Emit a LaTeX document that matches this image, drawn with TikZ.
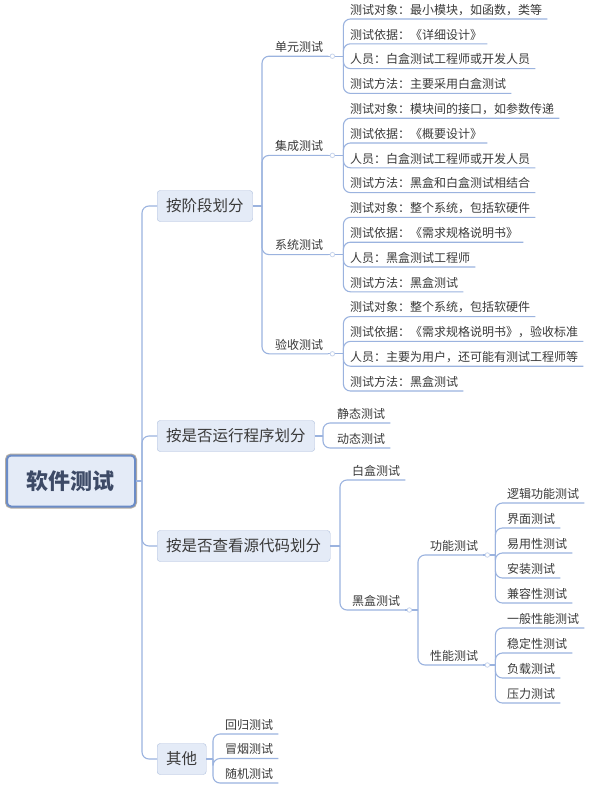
\documentclass[tikz,border=0pt]{standalone}
\usepackage{fontspec}
\setmainfont{Noto Sans CJK SC}
\usepackage{tikz}
\usetikzlibrary{positioning,calc}
\definecolor{mapline}{HTML}{9BB3DF}
\definecolor{mapfill}{HTML}{E4EBF7}
\definecolor{mapedge}{HTML}{AFC0DE}
\definecolor{maproot}{HTML}{6B8CC7}
\definecolor{mapgray}{HTML}{B4ADA3}
\definecolor{maptext}{HTML}{3A3A3A}
\definecolor{mapdeep}{HTML}{3D4A66}

\begin{document}
\begin{tikzpicture}[x=1pt,y=-1pt,
	link/.style={draw=mapline,line width=1.1pt,rounded corners=7pt},
	topic/.style={anchor=west,draw=mapedge,fill=mapfill,rounded corners=3pt,text=maptext,font=\fontsize{15.5}{16}\selectfont,inner xsep=9pt,minimum height=31pt},
	sub/.style={anchor=south west,text=maptext,font=\fontsize{12}{13}\selectfont,inner xsep=5pt,inner ysep=2pt,text depth=2.5pt},
	knob/.style={circle,draw=mapline!55,fill=white,line width=0.8pt,inner sep=0pt,minimum size=4.5pt}]
	\path[use as bounding box,fill=white] (0,0) rectangle (600,798);
	\node[draw=maproot,line width=2pt,preaction={draw=mapgray,line width=4pt},fill=mapfill,rounded corners=4pt,minimum width=128pt,minimum height=51pt,font=\fontsize{22}{24}\selectfont\bfseries,text=mapdeep] (root) at (71,481) {软件测试};
	\node[topic] (stage) at (157,206) {按阶段划分};
	\node[topic] (run) at (157,436) {按是否运行程序划分};
	\node[topic] (src) at (157,546) {按是否查看源代码划分};
	\node[topic] (misc) at (157,759) {其他};
	\coordinate (m0) at (142,481);
	\draw[link] (root.east) -- (m0);
	\foreach \n in {stage,run,src,misc}
		\draw[link] (m0) |- (\n.west);

	\coordinate (m1) at (262,206);
	\draw[link] (stage.east) -- (m1);
	\foreach \u/\t [count=\g] in {unit/单元测试,integ/集成测试,system/系统测试,accept/验收测试}{
		\node[sub] (\u) at (270,{56.2+99.2*(\g-1)}) {\t};
		\draw[link] (m1) |- (\u.south east);
		\coordinate (s\u) at ($(\u.south east)+(15,0)$);
		\draw[link] (\u.south east) -- (s\u);
		\node[knob] (k\u) at ($(\u.south east)+(4,0)$) {};
	}
	\foreach \t [count=\i] in {测试对象：最小模块，如函数，类等,测试依据：《详细设计》,人员：白盒测试工程师或开发人员,测试方法：主要采用白盒测试}{
		\node[sub] (unit\i) at (345,{19+24.8*(\i-1)}) {\t};
		\draw[link] (sunit) |- (unit\i.south east);
	}
	\foreach \t [count=\i] in {测试对象：模块间的接口，如参数传递,测试依据：《概要设计》,人员：白盒测试工程师或开发人员,测试方法：黑盒和白盒测试相结合}{
		\node[sub] (integ\i) at (345,{118.2+24.8*(\i-1)}) {\t};
		\draw[link] (sinteg) |- (integ\i.south east);
	}
	\foreach \t [count=\i] in {测试对象：整个系统，包括软硬件,测试依据：《需求规格说明书》,人员：黑盒测试工程师,测试方法：黑盒测试}{
		\node[sub] (system\i) at (345,{217.4+24.8*(\i-1)}) {\t};
		\draw[link] (ssystem) |- (system\i.south east);
	}
	\foreach \t [count=\i] in {测试对象：整个系统，包括软硬件,测试依据：《需求规格说明书》，验收标准,人员：主要为用户，还可能有测试工程师等,测试方法：黑盒测试}{
		\node[sub] (accept\i) at (345,{316.6+24.8*(\i-1)}) {\t};
		\draw[link] (saccept) |- (accept\i.south east);
	}

	\coordinate (m3) at (323,436);
	\draw[link] (run.east) -- (m3);
	\foreach \t [count=\i] in {静态测试,动态测试}{
		\node[sub] (run\i) at (332,{423+25*(\i-1)}) {\t};
		\draw[link] (m3) |- (run\i.south east);
	}

	\coordinate (m4) at (340,546);
	\draw[link] (src.east) -- (m4);
	\node[sub] (white) at (347,480) {白盒测试};
	\node[sub] (black) at (347,610) {黑盒测试};
	\foreach \n in {white,black}
		\draw[link] (m4) |- (\n.south east);
	\coordinate (m5) at (418,610);
	\draw[link] (black.south east) -- (m5);
	\node[knob] (kblack) at ($(black.south east)+(4,0)$) {};
	\node[sub] (func) at (425,555) {功能测试};
	\node[sub] (perf) at (425,665) {性能测试};
	\foreach \n in {func,perf}{
		\draw[link] (m5) |- (\n.south east);
		\coordinate (s\n) at ($(\n.south east)+(12,0)$);
		\draw[link] (\n.south east) -- (s\n);
		\node[knob] (k\n) at ($(\n.south east)+(4,0)$) {};
	}
	\foreach \t [count=\i] in {逻辑功能测试,界面测试,易用性测试,安装测试,兼容性测试}{
		\node[sub] (func\i) at (502,{503+25*(\i-1)}) {\t};
		\draw[link] (sfunc) |- (func\i.south east);
	}
	\foreach \t [count=\i] in {一般性能测试,稳定性测试,负载测试,压力测试}{
		\node[sub] (perf\i) at (502,{628+25*(\i-1)}) {\t};
		\draw[link] (sperf) |- (perf\i.south east);
	}

	\coordinate (m8) at (213,759);
	\draw[link] (misc.east) -- (m8);
	\foreach \t [count=\i] in {回归测试,冒烟测试,随机测试}{
		\node[sub] (misc\i) at (220,{734+24.5*(\i-1)}) {\t};
		\draw[link] (m8) |- (misc\i.south east);
	}
\end{tikzpicture}
\end{document}
